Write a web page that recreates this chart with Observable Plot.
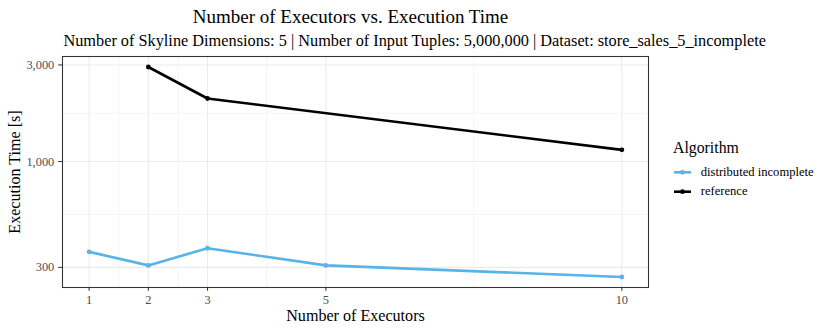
<!DOCTYPE html>
<html>
<head>
<meta charset="utf-8">
<script src="https://cdn.jsdelivr.net/npm/d3@7"></script>
<script src="https://cdn.jsdelivr.net/npm/@observablehq/plot@0.6"></script>
<style>
  html, body { margin: 0; padding: 0; background: #fff; }
  #wrap { position: relative; width: 830px; height: 332px; font-family: "Liberation Serif", "DejaVu Serif", serif; }
  #wrap svg { position: absolute; left: 0; top: 0; }
</style>
</head>
<body>
<div id="wrap"></div>
<script>
// ---- data ----
const executors = [1, 2, 3, 5, 10];
const distributedIncomplete = [358, 307, 373, 307, 269];
const referenceExecutors = [2, 3, 10];
const referenceTimes = [2930, 2048, 1142];
const xTicks = [1, 2, 3, 5, 10];
const xMinor = [1.5, 2.5, 4, 7.5];
const yTicks = [300, 1000, 3000];
const yMinor = [547.7, 1732];
const seriesNames = ["distributed incomplete", "reference"];
const seriesColors = ["#56B4E9", "#000000"];

const titleText = "Number of Executors vs. Execution Time";
const subtitleText = "Number of Skyline Dimensions: 5 | Number of Input Tuples: 5,000,000 | Dataset: store_sales_5_incomplete";

const rows = [
  ...executors.map((e, i) => ({algorithm: seriesNames[0], executors: e, time: distributedIncomplete[i]})),
  ...referenceExecutors.map((e, i) => ({algorithm: seriesNames[1], executors: e, time: referenceTimes[i]}))
];

// ggplot-like 5% expansion
const xExt = d3.extent(rows, d => d.executors);
const xPad = (xExt[1] - xExt[0]) * 0.05;
const lyExt = d3.extent(rows, d => Math.log10(d.time));
const lyPad = (lyExt[1] - lyExt[0]) * 0.05;

const W = 830, H = 332;
const mL = 62, mR = 182, mT = 56, mB = 45;
const FONT = '"Liberation Serif", serif';

const chart = Plot.plot({
  width: W, height: H,
  marginLeft: mL, marginRight: mR, marginTop: mT, marginBottom: mB,
  style: {fontFamily: FONT, background: "transparent", overflow: "visible"},
  x: {type: "linear", domain: [xExt[0] - xPad, xExt[1] + xPad]},
  y: {type: "log", domain: [Math.pow(10, lyExt[0] - lyPad), Math.pow(10, lyExt[1] + lyPad)]},
  color: {domain: seriesNames, range: seriesColors},
  marks: [
    Plot.ruleX(xMinor, {stroke: "#ebebeb", strokeWidth: 0.55}),
    Plot.ruleY(yMinor, {stroke: "#ebebeb", strokeWidth: 0.55}),
    Plot.ruleX(xTicks, {stroke: "#ebebeb", strokeWidth: 1.07}),
    Plot.ruleY(yTicks, {stroke: "#ebebeb", strokeWidth: 1.07}),
    Plot.line(rows, {x: "executors", y: "time", z: "algorithm", stroke: "algorithm", strokeWidth: 2.6}),
    Plot.dot(rows, {x: "executors", y: "time", fill: "algorithm", r: 2.4, stroke: "none"}),
    Plot.frame({stroke: "#333333", strokeWidth: 1.07}),
    Plot.axisX({ticks: xTicks, tickFormat: d => String(d), tickSize: 3.7, tickPadding: 3.5, stroke: "#333333", strokeWidth: 1.07, fill: "#4d4d4d", fontSize: 12.4, label: null}),
    Plot.axisY({ticks: yTicks, tickFormat: d3.format(","), tickSize: 3.7, tickPadding: 4.5, stroke: "#333333", strokeWidth: 1.07, fill: "#4d4d4d", fontSize: 12.4, label: null})
  ]
});
document.getElementById("wrap").appendChild(chart);

// overlay: titles, axis titles, legend
const ov = d3.select("#wrap").append("svg")
  .attr("width", W).attr("height", H)
  .style("font-family", FONT);

ov.append("text").attr("x", 350.5).attr("y", 22.7).attr("text-anchor", "middle")
  .attr("font-size", 19).attr("fill", "#000").text(titleText);
ov.append("text").attr("x", 414.7).attr("y", 45.5).attr("text-anchor", "middle")
  .attr("font-size", 16.3).attr("fill", "#000").text(subtitleText);

ov.append("text").attr("x", 355.5).attr("y", 320.7).attr("text-anchor", "middle")
  .attr("font-size", 16.1).attr("fill", "#000").text("Number of Executors");
ov.append("text").attr("transform", `translate(19.5,172) rotate(-90)`).attr("text-anchor", "middle")
  .attr("font-size", 16.1).attr("fill", "#000").text("Execution Time [s]");

const lg = ov.append("g");
lg.append("text").attr("x", 673).attr("y", 152.7).attr("font-size", 15.8).attr("fill", "#000").text("Algorithm");
seriesNames.forEach((name, i) => {
  const yy = 172.3 + i * 19.4;
  lg.append("line").attr("x1", 674).attr("x2", 691).attr("y1", yy).attr("y2", yy)
    .attr("stroke", seriesColors[i]).attr("stroke-width", 2.6);
  lg.append("circle").attr("cx", 682.5).attr("cy", yy).attr("r", 2.4).attr("fill", seriesColors[i]);
  lg.append("text").attr("x", 700.7).attr("y", yy + 3.6).attr("font-size", 12.6).attr("fill", "#000").text(name);
});
</script>
</body>
</html>
